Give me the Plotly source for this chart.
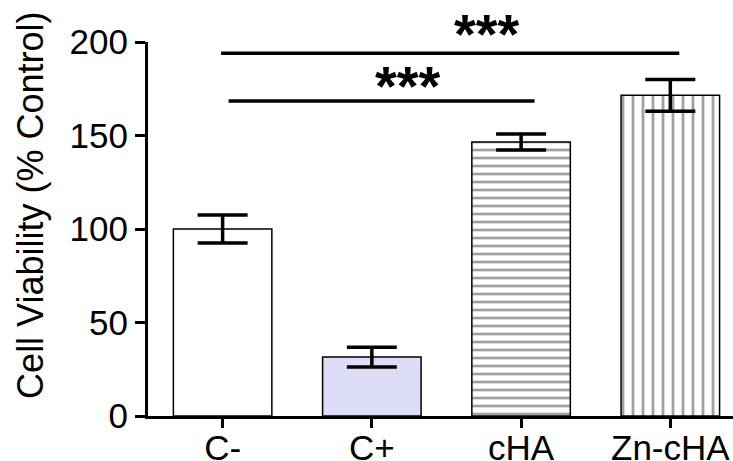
import plotly.graph_objects as go

categories = ["C-", "C+", "cHA", "Zn-cHA"]
viability = [100.0, 31.5, 146.5, 171.5]
errors = [7.5, 5.3, 4.3, 8.5]
y_tick_values = [0, 50, 100, 150, 200]
y_tick_labels = ["0", "50", "100", "150", "200"]
y_range = [0, 200]
y_title = "Cell Viability (% Control)"

# significance brackets: start/end (category units), height, label
sig_x0 = [0.04, -0.01]
sig_x1 = [2.09, 3.06]
sig_y = [168.5, 194.0]
sig_label_x = [1.24, 1.77]
sig_label_y = [176.7, 204.8]
sig_labels = ["***", "***"]

FONT = "Arial, 'Liberation Sans', sans-serif"

fig = go.Figure()
fig.add_trace(go.Bar(
    x=list(range(len(categories))),
    y=viability,
    width=0.66,
    marker=dict(
        color=["white", "#dcdcf7", "white", "white"],
        line=dict(color="black", width=1.5),
        pattern=dict(
            shape=["", "", "-", "|"],
            fgcolor="black",
            bgcolor=["white", "#dcdcf7", "white", "white"],
            size=[8, 8, 8, 10],
            solidity=[0.2, 0.2, 0.33, 0.28],
        ),
    ),
    error_y=dict(type="data", array=errors, visible=True,
                 color="black", thickness=3.5, width=25),
    showlegend=False,
))

for x0, x1, yv in zip(sig_x0, sig_x1, sig_y):
    fig.add_shape(type="line", xref="x", yref="y", x0=x0, x1=x1, y0=yv, y1=yv,
                  line=dict(color="black", width=3.5))

for lx, ly, txt in zip(sig_label_x, sig_label_y, sig_labels):
    fig.add_annotation(x=lx, y=(ly - y_range[0]) / (y_range[1] - y_range[0]),
                       xref="x", yref="paper", text="<b>" + txt + "</b>",
                       showarrow=False, font=dict(family=FONT, size=56, color="black"),
                       yanchor="middle", xanchor="center")

# y-axis title placed as rotated annotation (sits slightly above the plot centre)
fig.add_annotation(x=-0.202, y=0.564, xref="paper", yref="paper", text=y_title,
                   textangle=-90, showarrow=False, xanchor="center", yanchor="middle",
                   font=dict(family=FONT, size=36, color="black"))

fig.update_layout(
    width=733, height=461,
    margin=dict(l=148, r=0, t=42, b=45, autoexpand=False),
    paper_bgcolor="white", plot_bgcolor="white",
    font=dict(family=FONT, color="black"),
)
fig.update_xaxes(
    range=[-0.5, 3.42],
    tickvals=list(range(len(categories))),
    ticktext=categories,
    showline=True, linecolor="black", linewidth=3,
    ticks="outside", ticklen=9, tickwidth=3, tickcolor="black",
    ticklabelstandoff=-10,
    tickfont=dict(family=FONT, size=35, color="black"),
    showgrid=False, zeroline=False, automargin=False,
)
fig.update_yaxes(
    range=y_range,
    tickvals=y_tick_values, ticktext=y_tick_labels,
    showline=True, linecolor="black", linewidth=3,
    ticks="outside", ticklen=10, tickwidth=3, tickcolor="black",
    tickfont=dict(family=FONT, size=35, color="black"),
    showgrid=False, zeroline=False, automargin=False,
)

fig.write_html("out.html", config={"displayModeBar": False},
               post_script="document.body.style.margin='0';")
